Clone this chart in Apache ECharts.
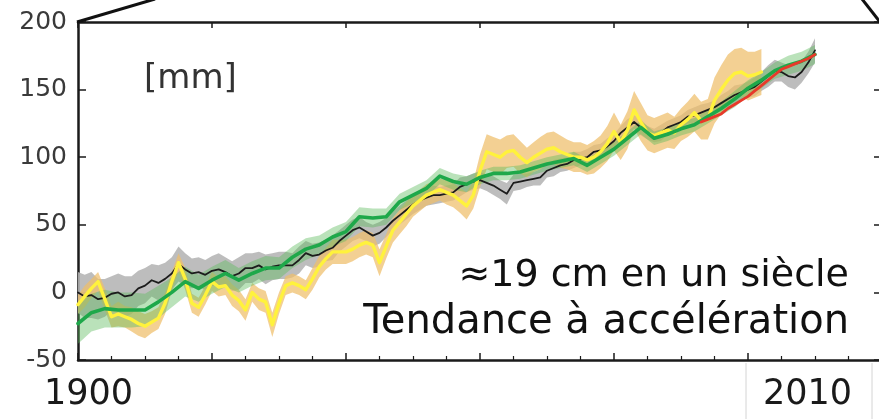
<!DOCTYPE html>
<html>
<head>
<meta charset="utf-8">
<script src="https://cdn.jsdelivr.net/npm/echarts@6/dist/echarts.min.js"></script>
<style>html,body{margin:0;padding:0;background:#fff;}#c{width:879px;height:419px;}</style>
</head>
<body>
<div id="c"></div>
<script>
// ---- data ----
const yTicks = [-50, 0, 50, 100, 150, 200];
const xTickLabels = ['1900', '2010'];
const unitLabel = '[mm]';
const noteLines = ['\u224819 cm en un si\u00e8cle', 'Tendance \u00e0 acc\u00e9l\u00e9ration'];

// black reconstruction (annual)
const blackYears = [];
for (let y = 1900; y <= 2010; y++) blackYears.push(y);
const blackVals = [
  0,-3,-2,-5,-4,-1,0,-3,-2,3,
  5,9,7,10,14,21,17,14,15,13,
  16,17,15,12,14,18,18,20,17,19,
  20,20,20,24,29,27,28,31,33,38,
  42,46,48,45,42,44,48,53,57,61,
  65,68,70,72,72,73,74,78,80,82,
  83,81,79,76,73,81,82,83,84,85,
  90,92,94,95,98,99,100,104,105,108,
  112,118,122,126,122,118,116,118,122,124,
  126,130,131,133,135,137,140,143,146,148,
  150,152,156,160,164,163,160,159,163,170,179
];
const blackUnc = [
  15,16,17,15,14,13,14,15,14,13,
  13,12,13,12,12,13,12,11,11,11,
  11,12,11,11,12,11,11,10,11,10,
  10,10,9,10,9,9,9,8,9,8,
  8,8,8,7,8,8,7,7,7,7,
  7,7,6,7,6,6,6,7,6,6,
  6,6,7,7,8,6,6,5,5,6,
  5,6,5,5,6,5,6,5,5,6,
  5,5,6,5,6,5,5,6,5,5,
  5,5,6,6,5,5,6,6,7,6,
  6,7,7,8,8,7,8,9,8,8,9
];

// yellow reconstruction (annual, ends 2002)
const yellowYears = [];
for (let y = 1900; y <= 2002; y++) yellowYears.push(y);
const yellowVals = [
  -9,-3,3,8,-5,-18,-16,-18,-20,-23,
  -25,-22,-19,-8,8,22,10,-8,-11,-2,
  8,4,5,-2,-6,-13,0,-5,-7,-24,
  -8,5,7,5,2,10,19,25,30,30,
  30,32,35,37,35,22,34,46,52,58,
  64,68,72,74,76,74,72,68,64,72,
  90,104,102,100,104,105,100,96,100,103,
  106,107,104,102,100,100,98,100,104,110,
  119,111,120,135,126,118,116,118,120,118,
  124,128,133,127,128,142,150,157,162,163,
  160,161,163
];
const yellowUnc = [
  7,8,7,7,8,8,9,8,9,9,
  9,8,8,8,7,7,8,7,7,7,
  7,7,7,8,8,8,7,8,8,9,
  8,7,7,7,7,8,8,8,9,9,
  9,9,9,9,9,10,9,9,9,9,
  8,8,8,8,8,9,9,9,10,10,
  12,13,13,13,12,12,12,11,11,12,
  12,12,12,11,11,11,11,12,12,13,
  14,13,14,14,14,13,13,13,13,12,
  12,13,14,14,15,17,18,19,18,18,
  18,17,17
];

// green reconstruction (every 2 years)
const greenYears = [];
for (let y = 1900; y <= 2010; y += 2) greenYears.push(y);
const greenVals = [
  -23,-15,-12,-13,-13,-13,-7,0,8,3,
  9,14,9,14,18,18,26,32,35,41,
  45,56,55,56,67,72,77,86,82,80,
  85,88,88,89,92,95,97,99,94,100,
  106,114,122,114,117,121,124,130,136,143,
  151,157,164,168,171,176
];
const greenUnc = [
  15,14,14,13,13,12,12,11,11,10,
  10,10,9,9,9,8,8,8,7,7,
  7,7,7,6,6,6,6,6,6,6,
  5,5,5,5,5,5,5,5,5,5,
  5,5,5,5,5,5,5,5,5,6,
  6,6,6,7,7,7
];

// red satellite record
const redYears = [];
for (let y = 1993; y <= 2010; y++) redYears.push(y);
const redVals = [126,128,130,132,136,139,142,145,149,153,157,161,165,167,169,171,173,176];

// ---- chart ----
const pairs = (xs, vs) => xs.map((x, i) => [x, vs[i]]);
function band(name, xs, vs, unc, color, z) {
  return {
    type: 'custom', name, silent: true, z,
    data: xs.map((x, i) => [x, vs[i] - unc[i], vs[i] + unc[i]]),
    encode: { x: 0, y: [1, 2] },
    renderItem(params, api) {
      if (params.dataIndexInside !== 0) return null;
      const n = params.dataInsideLength;
      const up = [], dn = [];
      for (let i = 0; i < n; i++) {
        up.push(api.coord([api.value(0, i), api.value(2, i)]));
        dn.push(api.coord([api.value(0, i), api.value(1, i)]));
      }
      return { type: 'polygon', shape: { points: up.concat(dn.reverse()) }, style: { fill: color } };
    }
  };
}
function line(name, xs, vs, color, width, z) {
  return { type: 'line', name, data: pairs(xs, vs), symbol: 'none', z, silent: true,
    lineStyle: { color, width, join: 'round', cap: 'round' } };
}

const axisLine = { show: true, onZero: false, lineStyle: { color: '#1a1a1a', width: 2.5 } };
const chart = echarts.init(document.getElementById('c'), null, { renderer: 'canvas' });
chart.setOption({
  animation: false,
  backgroundColor: '#ffffff',
  grid: { left: 78, top: 22, width: 804, height: 338, outerBoundsMode: 'none', containLabel: false },
  xAxis: [
    { type: 'value', min: 1900, max: 2020, interval: 20, position: 'bottom',
      axisLine, axisLabel: { show: false }, splitLine: { show: false },
      axisTick: { show: true, inside: true, length: 7, lineStyle: { color: '#1a1a1a', width: 1.5 } },
      minorTick: { show: true, splitNumber: 4, length: 4, lineStyle: { color: '#1a1a1a', width: 1.2 } } },
    { type: 'value', min: 1900, max: 2020, interval: 20, position: 'top',
      axisLine, axisLabel: { show: false }, splitLine: { show: false },
      axisTick: { show: true, inside: true, length: 6, lineStyle: { color: '#1a1a1a', width: 1.5 } } }
  ],
  yAxis: [
    { type: 'value', min: yTicks[0], max: yTicks[yTicks.length - 1], interval: 50, position: 'left',
      axisLine, splitLine: { show: false },
      axisTick: { show: true, inside: true, length: 8, lineStyle: { color: '#1a1a1a', width: 1.5 } },
      axisLabel: { show: true, margin: 11, color: '#3a3a3a', fontSize: 25, fontFamily: 'DejaVu Sans',
        formatter: v => (yTicks.indexOf(v) >= 0 ? String(v) : '') } },
    { type: 'value', min: yTicks[0], max: yTicks[yTicks.length - 1], interval: 50, position: 'right',
      axisLine, splitLine: { show: false }, axisLabel: { show: false },
      axisTick: { show: true, inside: true, length: 8, lineStyle: { color: '#1a1a1a', width: 1.5 } } }
  ],
  series: [
    band('grey band', blackYears, blackVals, blackUnc, 'rgba(180,180,180,0.88)', 1),
    band('orange band', yellowYears, yellowVals, yellowUnc, 'rgba(238,190,105,0.72)', 2),
    band('green band', greenYears, greenVals, greenUnc, 'rgba(90,185,90,0.42)', 3),
    line('black', blackYears, blackVals, '#1c1c1c', 1.8, 4),
    line('yellow', yellowYears, yellowVals, '#fff23c', 3.4, 5),
    line('green', greenYears, greenVals, '#1ea84a', 3.6, 6),
    line('red', redYears, redVals, '#e8392a', 2.8, 7)
  ],
  graphic: [
    { type: 'line', shape: { x1: 77, y1: 22, x2: 155, y2: -1 }, style: { stroke: '#111', lineWidth: 3 }, z: 10 },
    { type: 'line', shape: { x1: 862, y1: -1, x2: 880, y2: 22 }, style: { stroke: '#111', lineWidth: 3 }, z: 10 },
    { type: 'line', shape: { x1: 746, y1: 363, x2: 746, y2: 419 }, style: { stroke: '#d4d4d4', lineWidth: 1 } },
    { type: 'line', shape: { x1: 872, y1: 363, x2: 872, y2: 419 }, style: { stroke: '#d4d4d4', lineWidth: 1 } },
    { type: 'text', x: 144, y: 79, style: { text: unitLabel, font: '34px "DejaVu Sans"', fill: '#333', verticalAlign: 'middle', align: 'left' }, z: 10 },
    { type: 'text', x: 849, y: 276, style: { text: noteLines[0], font: '38px "DejaVu Sans"', fill: '#111', verticalAlign: 'middle', align: 'right' }, z: 10 },
    { type: 'text', x: 849, y: 323, style: { text: noteLines[1], font: '40px "DejaVu Sans"', fill: '#111', verticalAlign: 'middle', align: 'right' }, z: 10 },
    { type: 'text', x: 44, y: 395, style: { text: xTickLabels[0], font: '35px "DejaVu Sans"', fill: '#1a1a1a', verticalAlign: 'middle', align: 'left' }, z: 10 },
    { type: 'text', x: 852, y: 395, style: { text: xTickLabels[1], font: '35px "DejaVu Sans"', fill: '#1a1a1a', verticalAlign: 'middle', align: 'right' }, z: 10 }
  ]
});
</script>
</body>
</html>
